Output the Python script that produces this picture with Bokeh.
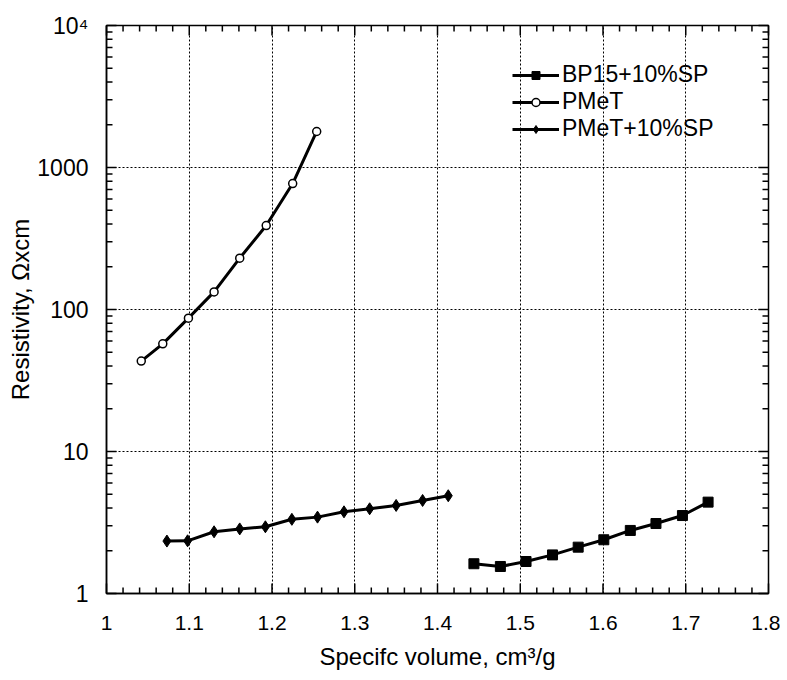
import numpy as np
from bokeh.plotting import figure
from bokeh.models import (Range1d, SingleIntervalTicker, LogTicker,
                          CustomJSTickFormatter, Legend, LegendItem)
from bokeh.embed import file_html
from bokeh.resources import INLINE

# ---- data ----
bp_x = [1.444, 1.476, 1.507, 1.539, 1.570, 1.601, 1.633, 1.664, 1.696, 1.727]
bp_y = [1.62, 1.55, 1.68, 1.87, 2.12, 2.39, 2.78, 3.11, 3.54, 4.40]

pmet_x = [1.042, 1.068, 1.099, 1.130, 1.161, 1.193, 1.225, 1.254]
pmet_y = [43.3, 57.3, 86.9, 133, 230, 390, 771, 1793]

pmsp_x = [1.073, 1.098, 1.130, 1.161, 1.192, 1.224, 1.255, 1.287, 1.318, 1.350, 1.382, 1.413]
pmsp_y = [2.34, 2.35, 2.72, 2.85, 2.95, 3.33, 3.45, 3.76, 3.95, 4.17, 4.52, 4.88]

labels = ["BP15+10%SP", "PMeT", "PMeT+10%SP"]

X0, X1 = 1.0, 1.8
Y0, Y1 = 1, 10000

FONT = "Liberation Sans"
W, H = 780, 678
BL, BR, BT, BB = 106, 12, 25, 85

p = figure(width=W, height=H, output_backend="svg", toolbar_location=None,
           x_range=Range1d(X0, X1), y_range=Range1d(Y0, Y1), y_axis_type="log",
           min_border_left=BL, min_border_right=BR, min_border_top=BT, min_border_bottom=BB)
p.background_fill_color = "white"
p.border_fill_color = "white"
p.outline_line_color = "black"
p.outline_line_width = 1.5

p.xaxis.ticker = SingleIntervalTicker(interval=0.1, num_minor_ticks=5)
p.yaxis.ticker = LogTicker(num_minor_ticks=10)
p.xaxis.formatter = CustomJSTickFormatter(code="return tick.toFixed(1).replace(/\\.0$/, '');")
p.yaxis.formatter = CustomJSTickFormatter(code="if (Math.abs(tick-10000)<1) {return '10\u2074';} return tick.toFixed(0);")

for ax in (p.xaxis[0], p.yaxis[0]):
    ax.major_tick_in = 0
    ax.major_tick_out = 0
    ax.minor_tick_in = 0
    ax.minor_tick_out = 0
    ax.axis_line_color = "black"
    ax.axis_line_width = 1.5
    ax.major_label_text_font = FONT
    ax.major_label_text_color = "black"
    ax.axis_label_text_font = FONT
    ax.axis_label_text_font_size = "24px"
    ax.axis_label_text_font_style = "normal"
    ax.axis_label_text_color = "black"

p.xaxis.major_label_text_font_size = "21px"
p.yaxis.major_label_text_font_size = "23px"
p.xaxis.axis_label = "Specifc volume, cm\u00b3/g"
p.yaxis.axis_label = "Resistivity, \u03a9xcm"
p.xaxis.major_label_standoff = 22
p.yaxis.major_label_standoff = 18
p.xaxis.axis_label_standoff = 10
p.yaxis.axis_label_standoff = 0

for g in (p.xgrid[0], p.ygrid[0]):
    g.grid_line_color = "black"
    g.grid_line_dash = "2 2"
    g.grid_line_width = 1
    g.minor_grid_line_color = None

# ---- inward ticks on all four sides (segments sized from the frame scale) ----
x_major = np.round(np.arange(X0, X1 + 1e-9, 0.1), 3)
x_minor = np.array([v for v in np.round(np.arange(X0, X1 + 1e-9, 0.02), 3)
                    if abs(v * 10 - round(v * 10)) > 1e-6])
y_major = np.array([10.0 ** d for d in range(0, 5)])
y_minor = np.array([k * 10.0 ** d for d in range(0, 4) for k in range(2, 10)])

frame_w = W - BL - BR
frame_h = H - BT - BB
x_per_px = (X1 - X0) / frame_w
dec_per_px = (np.log10(Y1) - np.log10(Y0)) / frame_h

MAJ, MIN = 10, 6
tick_kw = dict(line_color="black", line_width=1.5, level="overlay")
for xs, L in ((x_major, MAJ), (x_minor, MIN)):
    n = len(xs)
    p.segment(x0=list(xs), y0=[Y0] * n, x1=list(xs), y1=[Y0 * 10 ** (L * dec_per_px)] * n, **tick_kw)
    p.segment(x0=list(xs), y0=[Y1] * n, x1=list(xs), y1=[Y1 / 10 ** (L * dec_per_px)] * n, **tick_kw)
for ys, L in ((y_major, MAJ), (y_minor, MIN)):
    n = len(ys)
    p.segment(x0=[X0] * n, y0=list(ys), x1=[X0 + L * x_per_px] * n, y1=list(ys), **tick_kw)
    p.segment(x0=[X1] * n, y0=list(ys), x1=[X1 - L * x_per_px] * n, y1=list(ys), **tick_kw)

LW = 3
l1 = p.line(bp_x, bp_y, line_color="black", line_width=LW)
s1 = p.scatter(bp_x, bp_y, marker="square", size=10, fill_color="black", line_color="black")
l2 = p.line(pmet_x, pmet_y, line_color="black", line_width=LW)
s2 = p.scatter(pmet_x, pmet_y, marker="circle", size=8, fill_color="white", line_color="black", line_width=1.5)
l3 = p.line(pmsp_x, pmsp_y, line_color="black", line_width=LW)
s3 = p.scatter(pmsp_x, pmsp_y, marker="diamond", size=12, fill_color="black", line_color="black")

legend = Legend(items=[LegendItem(label=labels[0], renderers=[l1, s1]),
                       LegendItem(label=labels[1], renderers=[l2, s2]),
                       LegendItem(label=labels[2], renderers=[l3, s3])],
                location=(406, 451), border_line_color=None, background_fill_alpha=0,
                padding=0, spacing=-2, glyph_width=47, glyph_height=20, label_height=20,
                label_standoff=3, label_text_font=FONT, label_text_font_size="23px",
                label_text_color="black", margin=0)
p.add_layout(legend)

open("out.html", "w").write(file_html(p, INLINE))
